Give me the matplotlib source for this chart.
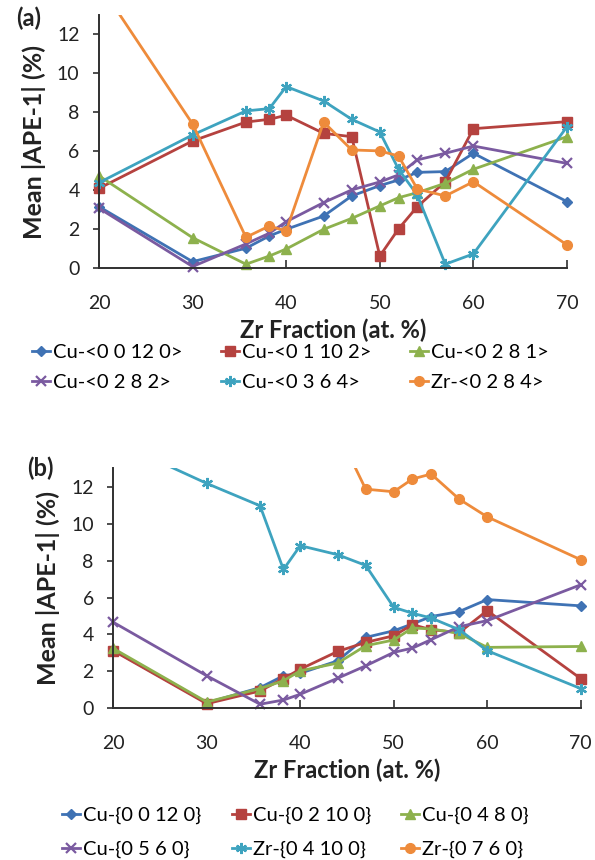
import matplotlib
matplotlib.use("Agg")
import matplotlib.pyplot as plt
import numpy as np
from matplotlib.transforms import Bbox, TransformedBbox

plt.rcParams['font.family'] = ['Lato', 'DejaVu Sans']

# Zr fraction (at. %)
zr = [20, 30, 35.7, 38.2, 40, 44, 47, 50, 52, 54, 57, 60, 70]

# panel (a): Voronoi index clusters
a_cu_00120 = [3.16, 0.34, 1.03, 1.66, 2.0, 2.68, 3.71, 4.24, 4.53, 4.92, 4.96, 5.9, 3.42]
a_cu_01102 = [4.10, 6.53, 7.50, 7.64, 7.85, 6.92, 6.75, 0.63, 2.02, 3.16, 4.44, 7.16, 7.52]
a_cu_0281 = [4.74, 1.57, 0.21, 0.63, 0.99, 2.0, 2.56, 3.2, 3.62, 3.88, 4.36, 5.08, 6.75]
a_cu_0282 = [3.08, 0.09, 1.25, 1.8, 2.39, 3.37, 4.02, 4.43, 4.79, 5.56, 5.9, 6.27, 5.38]
a_cu_0364 = [4.39, 6.84, 8.07, 8.19, 9.32, 8.58, 7.64, 6.99, 5.08, 3.76, 0.21, 0.74, 7.26]
a_zr_0284 = [14.6, 7.40, 1.59, 2.17, 1.91, 7.50, 6.07, 6.02, 5.76, 4.07, 3.71, 4.44, 1.20]

# panel (b): Voronoi face clusters
b_cu_00120 = [3.15, 0.30, 1.12, 1.76, 1.90, 2.57, 3.84, 4.20, 4.57, 4.97, 5.24, 5.89, 5.55]
b_cu_02100 = [3.12, 0.25, 0.94, 1.61, 2.12, 3.08, 3.57, 3.93, 4.53, 4.26, 4.10, 5.29, 1.61]
b_cu_0480 = [3.24, 0.34, 1.07, 1.49, 2.03, 2.45, 3.39, 3.70, 4.35, 4.30, 4.06, 3.30, 3.35]
b_cu_0560 = [4.66, 1.76, 0.22, 0.45, 0.76, 1.63, 2.30, 3.03, 3.26, 3.72, 4.42, 4.75, 6.69]
b_zr_04100 = [14.5, 12.18, 10.97, 7.52, 8.81, 8.32, 7.74, 5.47, 5.15, 4.89, 4.26, 3.12, 1.07]
b_zr_0760 = [np.nan, np.nan, np.nan, np.nan, np.nan, 15.0, 11.87, 11.73, 12.42, 12.69, 11.33, 10.37, 8.05]

colors = ['#3F72B4', '#B5423F', '#8DB14D', '#7A5AA0', '#3EA3BF', '#EE8B3B']
markers = ['D', 's', '^', 'x', (6, 2, 0), 'o']
msizes = [5, 6.5, 7, 7, 8, 7]

series_a = [("Cu-<0 0 12 0>", a_cu_00120), ("Cu-<0 1 10 2>", a_cu_01102),
            ("Cu-<0 2 8 1>", a_cu_0281), ("Cu-<0 2 8 2>", a_cu_0282),
            ("Cu-<0 3 6 4>", a_cu_0364), ("Zr-<0 2 8 4>", a_zr_0284)]
series_b = [("Cu-{0 0 12 0}", b_cu_00120), ("Cu-{0 2 10 0}", b_cu_02100),
            ("Cu-{0 4 8 0}", b_cu_0480), ("Cu-{0 5 6 0}", b_cu_0560),
            ("Zr-{0 4 10 0}", b_zr_04100), ("Zr-{0 7 6 0}", b_zr_0760)]

fig = plt.figure(figsize=(5.95, 8.6), dpi=100)
W, H = 595.0, 860.0


def axes_px(left, top, right, bottom):
    return fig.add_axes([left / W, 1 - bottom / H, (right - left) / W, (bottom - top) / H])


def draw_panel(ax, series, tag, ylab_x, legend_y, legend_x, lspace, cspace):
    # let markers on the axis edges show, but cut lines at the top
    clip = TransformedBbox(Bbox([[-0.04, -0.05], [1.04, 1.0]]), ax.transAxes)
    handles = []
    for i, (name, vals) in enumerate(series):
        mew = 1.6 if markers[i] in ('x', (6, 2, 0)) else 1
        ln, = ax.plot(zr, vals, color=colors[i], lw=2, marker=markers[i],
                      ms=msizes[i], mew=mew, label=name)
        ln.set_clip_box(clip)
        handles.append(ln)
    ax.set_xlim(20, 70)
    ax.set_ylim(0, 13)
    ax.set_xticks([20, 30, 40, 50, 60, 70])
    ax.set_yticks([0, 2, 4, 6, 8, 10, 12])
    for s in ['top', 'right']:
        ax.spines[s].set_visible(False)
    for s in ['left', 'bottom']:
        ax.spines[s].set_color('#303030')
        ax.spines[s].set_linewidth(1.4)
    ax.tick_params(axis='x', direction='in', length=6, width=1.2, color='#303030',
                   pad=19, labelsize=14, labelcolor='#222222')
    ax.tick_params(axis='y', direction='out', length=4, width=1.2, color='#303030',
                   pad=10, labelsize=14, labelcolor='#222222')
    ax.set_ylabel("Mean |APE-1| (%)", fontsize=18, fontweight='bold', color='#222222')
    ax.yaxis.set_label_coords(ylab_x, 0.5)
    ax.set_xlabel("Zr Fraction (at. %)", fontsize=17, fontweight='bold',
                  color='#222222', labelpad=5)
    ax.text(tag[1], tag[2], tag[0], transform=ax.transAxes, fontsize=17,
            fontweight='bold', color='#222222', ha='center', va='center')
    order = [0, 3, 1, 4, 2, 5]
    fig.legend([handles[k] for k in order], [series[k][0] for k in order],
               ncol=3, loc='upper left', bbox_to_anchor=(legend_x / W, 1 - legend_y / H),
               frameon=False, fontsize=14.5, handlelength=0.9, handletextpad=0.15,
               columnspacing=cspace, labelspacing=lspace, borderaxespad=0, borderpad=0)


ax_a = axes_px(99, 14.8, 567, 268.3)
draw_panel(ax_a, series_a, ("(a)", -0.15, 0.985), -0.113, 344, 32, 0.62, 1.9)

ax_b = axes_px(113.3, 468.3, 580.7, 708.3)
draw_panel(ax_b, series_b, ("(b)", -0.155, 1.0), -0.114, 807, 62, 0.82, 1.5)

fig.savefig("out.png", dpi=100)
